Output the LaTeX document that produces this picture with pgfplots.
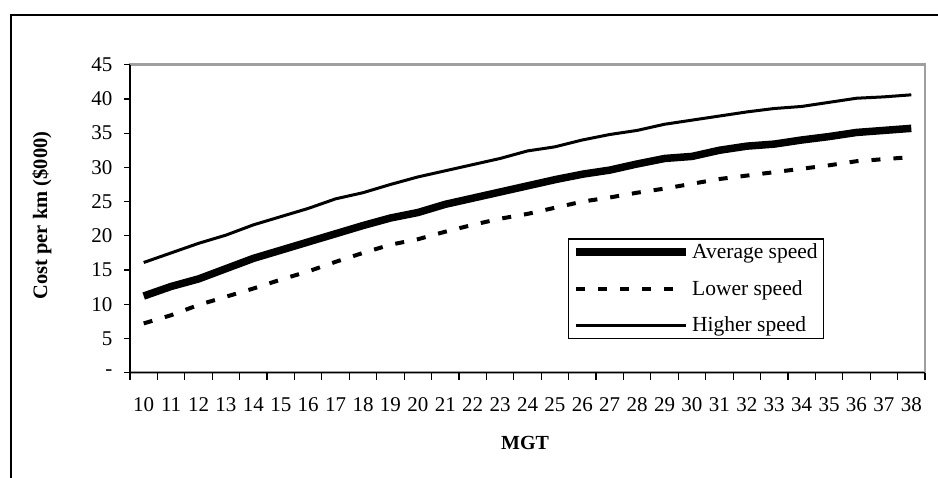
\documentclass[border=0pt]{standalone}
\usepackage{fontspec}
\setmainfont{Liberation Serif}
\usepackage{pgfplots}
\pgfplotsset{compat=1.18}
\usepackage{pgfplotstable}
\pgfplotstableread{
x mgt avg low high
0 10 11.2 7.2 16.1
1 11 12.6 8.4 17.5
2 12 13.7 9.9 18.9
3 13 15.2 11.1 20.1
4 14 16.7 12.3 21.6
5 15 17.9 13.6 22.8
6 16 19.1 14.8 24.0
7 17 20.3 16.2 25.4
8 18 21.5 17.5 26.3
9 19 22.6 18.7 27.5
10 20 23.4 19.5 28.6
11 21 24.6 20.6 29.5
12 22 25.5 21.6 30.4
13 23 26.4 22.5 31.3
14 24 27.3 23.2 32.4
15 25 28.2 24.1 33.0
16 26 29.0 25.0 34.0
17 27 29.6 25.6 34.8
18 28 30.5 26.3 35.4
19 29 31.3 26.9 36.3
20 30 31.6 27.6 36.9
21 31 32.5 28.3 37.5
22 32 33.1 28.8 38.1
23 33 33.4 29.3 38.6
24 34 34.0 29.8 38.9
25 35 34.5 30.3 39.5
26 36 35.1 30.9 40.1
27 37 35.4 31.2 40.3
28 38 35.7 31.5 40.6
}\datatable
\begin{document}
\begin{tikzpicture}[x=1pt,y=1pt]
\useasboundingbox (0,0) rectangle (938,-478);
\draw[line width=1.5pt] (11,-478) -- (11,-15) -- (938,-15);
\begin{axis}[
  at={(130pt,-372.7pt)}, anchor=south west,
  scale only axis, width=795pt, height=308pt,
  xmin=-0.5, xmax=28.5, ymin=0, ymax=45,
  axis x line*=bottom, axis y line*=left,
  axis line style={line width=1.6pt, -},
  axis background/.style={draw=gray!75, line width=2.5pt},
  tick align=outside,
  major tick length=6pt, minor tick length=7pt,
  xtick={0,...,28},
  xticklabels={10,11,12,13,14,15,16,17,18,19,20,21,22,23,24,25,26,27,28,29,30,31,32,33,34,35,36,37,38},
  major x tick style={draw=none},
  minor xtick={-0.5,0.5,...,28.5},
  minor x tick style={line width=1.2pt, black},
  ytick={0,5,...,45},
  yticklabels={{-\hspace{21pt}},5,10,15,20,25,30,35,40,45},
  major y tick style={line width=1.2pt, black},
  /pgf/number format/assume math mode=true,
  tick label style={font=\fontsize{21}{23}\selectfont},
  yticklabel style={xshift=-8pt},
  xticklabel style={yshift=-15pt},
  ylabel={Cost per km (\$000)},
  ylabel style={at={(axis description cs:-0.1107,0.51)}, anchor=center, font=\fontsize{20.5}{22}\selectfont\bfseries},
  xlabel={MGT},
  xlabel style={at={(axis description cs:0.497,-0.228)}, anchor=center, font=\fontsize{20}{22}\selectfont\bfseries},
  legend style={at={(axis description cs:0.551,0.436)}, anchor=north west, draw=black, line width=1.2pt,
    font=\fontsize{21.5}{23}\selectfont, row sep=16pt, inner xsep=4pt, inner ysep=3pt},
  legend cell align=left,
  legend image code/.code={\draw[#1] (0pt,0pt) -- (110pt,0pt);},
]
\addplot[black, line width=7.5pt] table[x=x,y=avg]{\datatable};
\addlegendentry{Average speed}
\addplot[black, line width=4pt, dash pattern=on 9pt off 13pt] table[x=x,y=low]{\datatable};
\addlegendentry{Lower speed}
\addplot[black, line width=3pt] table[x=x,y=high]{\datatable};
\addlegendentry{Higher speed}
\end{axis}
\end{tikzpicture}
\end{document}
